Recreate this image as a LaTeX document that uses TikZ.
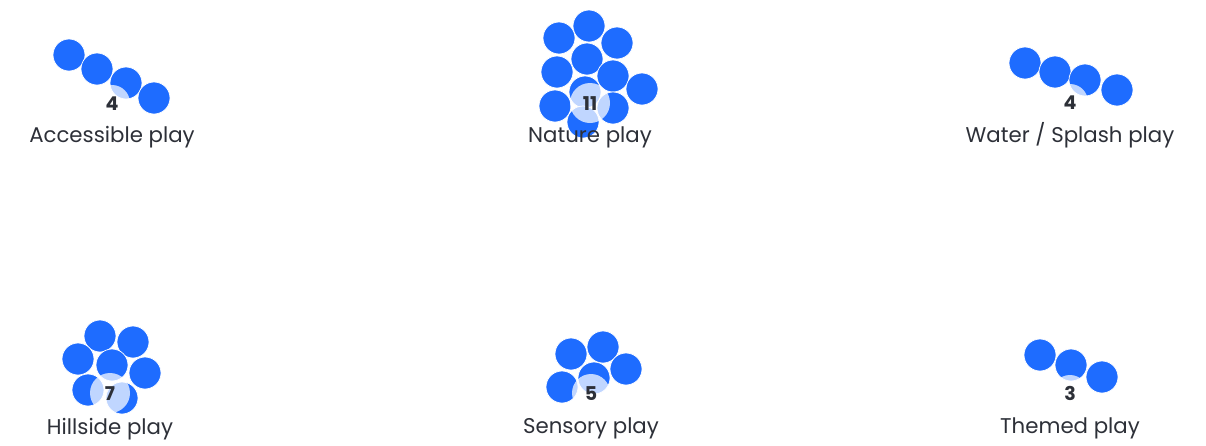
\documentclass[tikz,border=0pt]{standalone}
\usepackage{fontspec}
\setmainfont{Poppins}
\definecolor{bubble}{RGB}{30,108,255}
\definecolor{ink}{RGB}{45,48,56}
\begin{document}
\begin{tikzpicture}[x=1pt,y=-1pt]
    \tikzset{
      bub/.style={fill=bubble, draw=white, line width=0.7pt},
      glow/.style={fill=white, fill opacity=0.72},
      cnt/.style={text=ink, font=\fontsize{19}{19}\selectfont\bfseries,
                  inner sep=0pt, anchor=base},
      lbl/.style={text=ink, font=\fontsize{21.3}{21.3}\selectfont,
                  inner sep=0pt, anchor=base}
    }
    \useasboundingbox (0,0) rectangle (1206,445);

    % Accessible play
    \foreach \p in {(69,55),(97,69),(126,83),(154,98)}
        \fill[bub] \p circle (16);
    \fill[glow] (112,103) circle (18);
    \node[cnt] (acc-n) at (112,110) {4};
    \node[lbl] (acc) at (112,142) {Accessible play};

    % Nature play
    \foreach \p in {(589,26),(617,43),(559,38),(587,59),(557,72),(613,76),
                    (642,89),(585,92),(555,106),(613,108),(583,122)}
        \fill[bub] \p circle (16);
    \fill[glow] (590,103) circle (20);
    \node[cnt] (nat-n) at (590,110) {11};
    \node[lbl] (nat) at (590,142) {Nature play};

    % Water / Splash play
    \foreach \p in {(1025,63),(1055,72),(1085,80),(1117,90)}
        \fill[bub] \p circle (16);
    \fill[glow] (1070,102) circle (18);
    \node[cnt] (wat-n) at (1070,109) {4};
    \node[lbl] (wat) at (1070,142) {Water / Splash play};

    % Hillside play
    \foreach \p in {(100,336),(133,342),(78,359),(112,365),(145,373),(88,390),(122,398)}
        \fill[bub] \p circle (16);
    \fill[glow] (110,393) circle (20);
    \node[cnt] (hil-n) at (110,400) {7};
    \node[lbl] (hil) at (110,434) {Hillside play};

    % Sensory play
    \foreach \p in {(571,354),(603,347),(626,369),(594,378),(562,387)}
        \fill[bub] \p circle (16);
    \fill[glow] (591,393) circle (19);
    \node[cnt] (sen-n) at (591,400) {5};
    \node[lbl] (sen) at (591,433) {Sensory play};

    % Themed play
    \foreach \p in {(1040,355),(1071,365),(1102,377)}
        \fill[bub] \p circle (16);
    \fill[glow] (1070,393) circle (18);
    \node[cnt] (thm-n) at (1070,400) {3};
    \node[lbl] (thm) at (1070,433) {Themed play};
\end{tikzpicture}
\end{document}
